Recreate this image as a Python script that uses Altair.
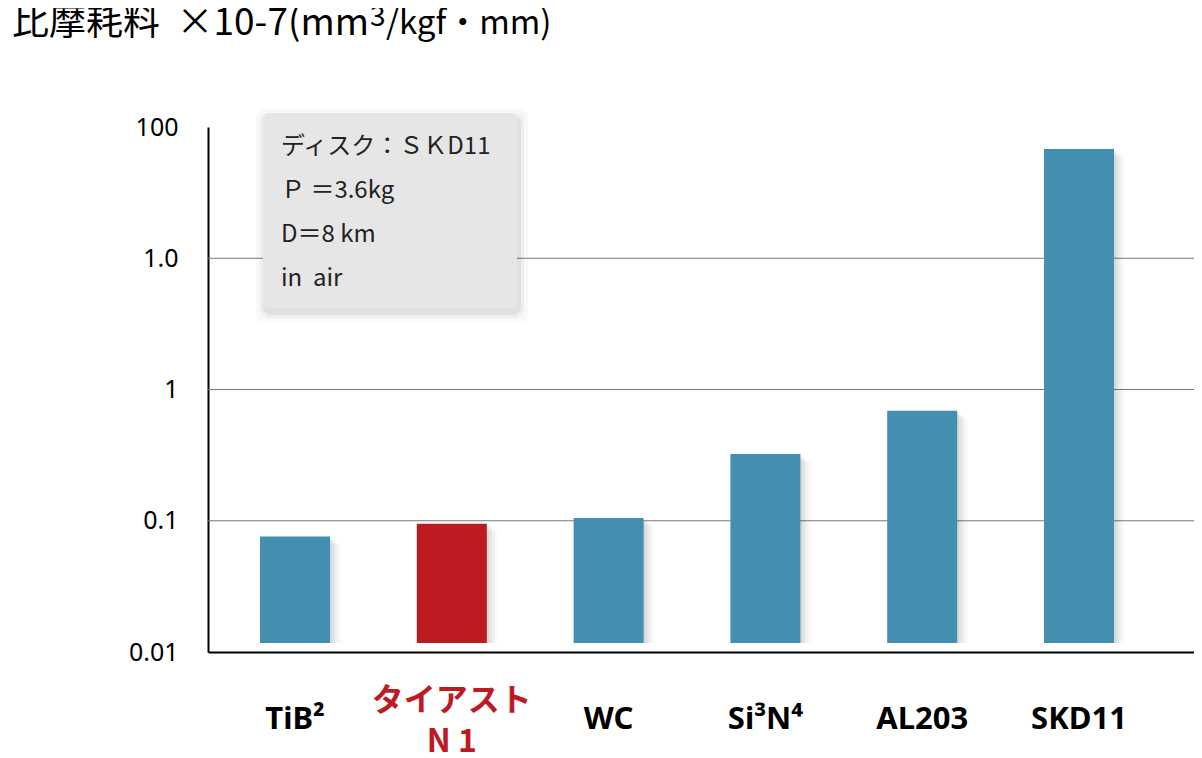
import altair as alt
import pandas as pd

# ---- data ----
CATEGORIES = ["TiB²", "タイアスト\nN 1", "WC", "Si³N⁴", "AL203", "SKD11"]
VALUES = [0.076, 0.095, 0.105, 0.322, 0.69, 68.0]
KIND = ["base", "hl", "base", "base", "base", "base"]
BAR_BASE = 0.0117
TICK_VALUES = [0.01, 0.1, 1, 10, 100]
TICK_LABELS = ["0.01", "0.1", "1", "1.0", "100"]
GRID_VALUES = [0.1, 1, 10]
TITLE_PARTS = ["比摩耗料\u00a0 ×10-7(mm", "3", "/kgf・mm)"]
NOTE_LINES = ["ディスク：ＳＫD11", "Ｐ ＝3.6kg", "D＝8 km", "in\u00a0\u00a0air"]

BLUE = "#448faf"
RED = "#be1a21"

df = pd.DataFrame({"cat": CATEGORIES, "value": VALUES, "base": BAR_BASE, "kind": KIND})

W, H = 986, 525

# label expression built from the tick arrays
expr = f"'{TICK_LABELS[-1]}'"
for v, l in reversed(list(zip(TICK_VALUES[:-1], TICK_LABELS[:-1]))):
    expr = f"datum.value < {v * 3} ? '{l}' : ({expr})"

xscale = alt.Scale(domain=CATEGORIES, paddingInner=0.5536, paddingOuter=0.421, align=0.394)
yscale = alt.Scale(type="log", domain=[0.01, 100])
xaxis = alt.Axis(labels=False, ticks=False, title=None, domainColor="black", domainWidth=2, grid=False)
yaxis = alt.Axis(values=TICK_VALUES, labelExpr=expr, grid=False, ticks=False,
                 domainColor="black", domainWidth=2, labelPadding=30,
                 labelFontSize=25, labelFont="Noto Sans", labelColor="black", title=None)

X = alt.X("cat:N", scale=xscale, axis=xaxis, sort=CATEGORIES)

base = alt.Chart(df)

grid = alt.Chart(pd.DataFrame({"g": GRID_VALUES})).mark_rule(color="#7a7a7a", strokeWidth=1).encode(
    y=alt.Y("g:Q", scale=yscale, axis=yaxis)
)

shadows = []
for dx, dy, op in [(2, 2, 0.06), (5, 4, 0.05), (8, 6, 0.035), (11, 8, 0.02)]:
    shadows.append(
        base.mark_bar(color="black", opacity=op, xOffset=dx, yOffset=dy).encode(
            x=X, y=alt.Y("value:Q", scale=yscale, axis=yaxis), y2="base",
        )
    )

bars = base.mark_bar().encode(
    x=X,
    y=alt.Y("value:Q", scale=yscale, axis=yaxis),
    y2="base",
    color=alt.Color("kind:N", scale=alt.Scale(domain=["base", "hl"], range=[BLUE, RED]), legend=None),
)

labels_black = base.transform_filter(alt.datum.kind == "base").mark_text(
    font="Noto Sans", fontWeight="bold", fontSize=31, baseline="middle", color="black"
).encode(x=X, y=alt.value(593), text="cat:N")

labels_red = base.transform_filter(alt.datum.kind == "hl").mark_text(
    font="Noto Sans CJK JP", fontWeight="bold", fontSize=32, baseline="middle", color=RED,
    lineBreak="\n", lineHeight=41
).encode(x=X, y=alt.value(574), text="cat:N")

one = pd.DataFrame({"t": ["\n".join(NOTE_LINES)], "p0": [TITLE_PARTS[0]], "p1": [TITLE_PARTS[1]], "p2": [TITLE_PARTS[2]]})
box_shadows = []
for grow, op in [(2, 0.06), (5, 0.04), (9, 0.025)]:
    box_shadows.append(
        alt.Chart(one).mark_rect(fill="black", opacity=op, cornerRadius=8).encode(
            x=alt.value(55 - grow + 2), x2=alt.value(309 + grow + 2),
            y=alt.value(-14 - grow + 5), y2=alt.value(181 + grow + 5)
        )
    )
box = alt.Chart(one).mark_rect(fill="#e6e6e6", cornerRadius=6).encode(
    x=alt.value(55), x2=alt.value(309), y=alt.value(-14), y2=alt.value(181)
)
note = alt.Chart(one).mark_text(
    align="left", baseline="middle", lineBreak="\n", lineHeight=44, fontSize=24,
    font="Noto Sans CJK JP", color="#222222"
).encode(x=alt.value(73), y=alt.value(20), text="t:N")

title0 = alt.Chart(one).mark_text(
    align="right", baseline="middle", fontSize=37, font="Noto Sans CJK JP", color="black"
).encode(x=alt.value(161), y=alt.value(-103), text="p0:N")
title1 = alt.Chart(one).mark_text(
    align="left", baseline="middle", fontSize=28, font="Noto Sans CJK JP", color="black"
).encode(x=alt.value(162), y=alt.value(-109), text="p1:N")
title2 = alt.Chart(one).mark_text(
    align="left", baseline="middle", fontSize=33, font="Noto Sans CJK JP", color="black"
).encode(x=alt.value(178), y=alt.value(-103), text="p2:N")

chart = alt.layer(
    grid, *shadows, bars, labels_black, labels_red, *box_shadows, box, note, title0, title1, title2
).properties(
    width=W, height=H,
    autosize=alt.AutoSizeParams(type="none"),
    padding={"left": 200, "top": 119, "right": 0, "bottom": 106},
).configure_view(stroke=None)

chart.save("out.html", embed_options={"renderer": "svg", "actions": False})
